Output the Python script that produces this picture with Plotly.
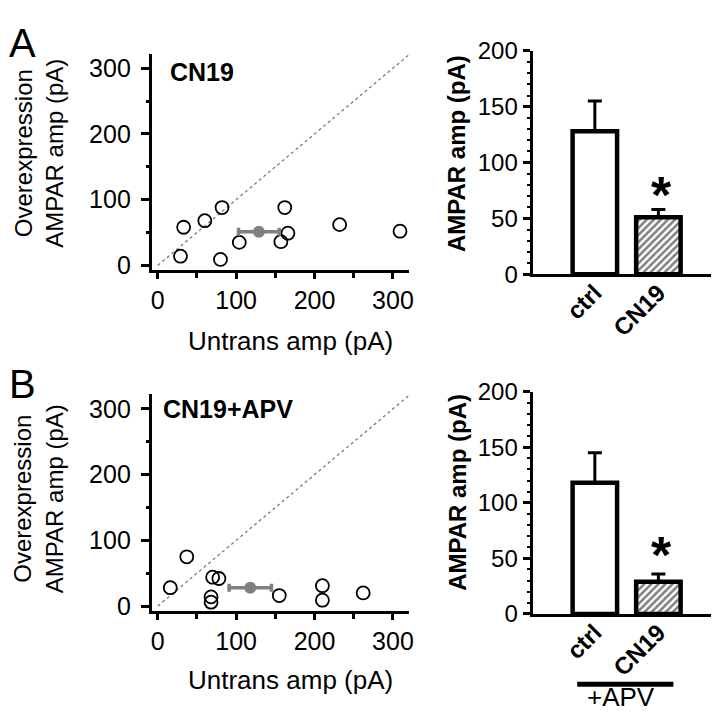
import plotly.graph_objects as go

# scatter data (pA)
untrans_a = [29, 33, 60, 82, 80, 104, 162, 166, 157, 232, 309]
overexp_a = [14, 58, 68, 88, 9, 35, 88, 49, 36, 62, 52]
mean_a = [129, 51]
sem_a = 26

untrans_b = [16, 37, 70, 78, 68, 68, 155, 210, 210, 262]
overexp_b = [28, 75, 44, 42, 14, 6, 16, 31, 9, 20]
mean_b = [118, 28]
sem_b = 27

# bar data
groups = ['ctrl', 'CN19']
bars_a = [128, 51]
bars_a_err = [27, 7]
bars_b = [118, 29]
bars_b_err = [27, 7]

diag = [0, 320]

W = H = 719
FONT = 'Liberation Sans, Arial, sans-serif'


def px(x):
    return x / W


def py(y):
    return 1 - y / H


fig = go.Figure()


def add_scatter(xs, ys, mean, sem, n):
    xa = 'x' if n == 1 else 'x%d' % n
    ya = 'y' if n == 1 else 'y%d' % n
    fig.add_trace(go.Scatter(x=diag, y=diag, mode='lines', xaxis=xa, yaxis=ya,
                             line=dict(color='#7a7a7a', width=1.3, dash='dot'),
                             showlegend=False, hoverinfo='skip'))
    fig.add_trace(go.Scatter(x=xs, y=ys, mode='markers', xaxis=xa, yaxis=ya,
                             marker=dict(symbol='circle-open', size=13, color='black',
                                         line=dict(width=1.8, color='black')),
                             showlegend=False))
    fig.add_trace(go.Scatter(x=[mean[0]], y=[mean[1]], mode='markers', xaxis=xa, yaxis=ya,
                             marker=dict(size=12, color='#808080'),
                             error_x=dict(type='data', array=[sem], color='#808080',
                                          thickness=3.5, width=4),
                             showlegend=False))


def add_bars(vals, errs, n):
    xa = 'x%d' % n
    ya = 'y%d' % n
    fig.add_trace(go.Bar(x=groups, y=vals, xaxis=xa, yaxis=ya, width=0.7,
                         marker=dict(color='white', line=dict(color='black', width=4.5),
                                     pattern=dict(shape=['', '/'], fgcolor='black',
                                                  bgcolor='white', size=5, solidity=0.5)),
                         error_y=dict(type='data', array=errs, arrayminus=[0, 0],
                                      color='black', thickness=3, width=7),
                         showlegend=False))


add_scatter(untrans_a, overexp_a, mean_a, sem_a, 1)
add_bars(bars_a, bars_a_err, 2)
add_scatter(untrans_b, overexp_b, mean_b, sem_b, 3)
add_bars(bars_b, bars_b_err, 4)

sc_x = dict(range=[-7.6, 320], showline=True, linecolor='black', linewidth=3,
            ticks='outside', ticklen=6, tickwidth=3, tickcolor='black',
            tickvals=[0, 100, 200, 300], showgrid=False, zeroline=False,
            minor=dict(dtick=50, tick0=0, ticks='outside', ticklen=5, tickwidth=3,
                       tickcolor='black', showgrid=False),
            tickfont=dict(family=FONT, size=25, color='black'))
sc_y = dict(range=[-7.5, 322], showline=True, linecolor='black', linewidth=3,
            ticks='outside', ticklen=8, tickwidth=3, tickcolor='black',
            tickvals=[0, 100, 200, 300], showgrid=False, zeroline=False,
            ticklabelstandoff=5,
            minor=dict(dtick=50, tick0=0, ticks='outside', ticklen=3, tickwidth=3,
                       tickcolor='black', showgrid=False),
            tickfont=dict(family=FONT, size=25, color='black'))
bar_x = dict(range=[-0.98, 1.97], showline=True, linecolor='black', linewidth=3,
             ticks='', tickangle=-45, showgrid=False, zeroline=False,
             ticklabelstandoff=-8,
             tickfont=dict(family=FONT, size=24, color='black', weight='bold'))
bar_y = dict(range=[0, 200], showline=True, linecolor='black', linewidth=3,
             ticks='outside', ticklen=7, tickwidth=3, tickcolor='black',
             tickvals=[0, 50, 100, 150, 200], showgrid=False, zeroline=False,
             minor=dict(dtick=10, tick0=0, ticks='outside', ticklen=3, tickwidth=2,
                        tickcolor='black', showgrid=False),
             tickfont=dict(family=FONT, size=24, color='black'))

fig.update_layout(
    width=W, height=H,
    margin=dict(l=0, r=0, t=0, b=0),
    paper_bgcolor='white', plot_bgcolor='white',
    bargap=0.3,
    xaxis=dict(sc_x, domain=[px(144), px(403)], anchor='y'),
    yaxis=dict(sc_y, domain=[py(258), py(33)], anchor='x'),
    xaxis2=dict(bar_x, domain=[px(528), px(717)], anchor='y2'),
    yaxis2=dict(bar_y, domain=[py(262), py(30)], anchor='x2'),
    xaxis3=dict(sc_x, domain=[px(144), px(403)], anchor='y3'),
    yaxis3=dict(sc_y, domain=[py(612), py(387)], anchor='x3'),
    xaxis4=dict(bar_x, domain=[px(528), px(717)], anchor='y4'),
    yaxis4=dict(bar_y, domain=[py(615), py(384)], anchor='x4'),
)


def note(text, x, y, size, bold=False, angle=0, xanchor='center'):
    fig.add_annotation(text=text, x=px(x), y=py(y), xref='paper', yref='paper',
                       xanchor=xanchor, yanchor='middle', showarrow=False, textangle=angle,
                       font=dict(family=FONT, size=size, color='black',
                                 weight='bold' if bold else 'normal'))


note('A', -2, 22, 40, xanchor='left')
note('B', -2, 376, 40, xanchor='left')
note('Overexpression<br>AMPAR amp (pA)', 30, 136, 24, angle=-90)
note('Overexpression<br>AMPAR amp (pA)', 30, 495, 24, angle=-90)
note('Untrans amp (pA)', 284, 331, 26)
note('Untrans amp (pA)', 284, 684, 26)
note('CN19', 160, 52, 25, bold=True, xanchor='left')
note('CN19+APV', 153, 402, 25, bold=True, xanchor='left')
note('AMPAR amp (pA)', 452, 137, 24, bold=True, angle=-90)
note('AMPAR amp (pA)', 452, 489, 24, bold=True, angle=-90)
note('*', 658, 180, 52, bold=True)
note('*', 658, 554, 52, bold=True)
note('+APV', 617, 701, 26)

fig.add_shape(type='line', xref='paper', yref='paper',
              x0=px(573), x1=px(670), y0=py(688), y1=py(688),
              line=dict(color='black', width=5))

fig.write_html('out.html')
